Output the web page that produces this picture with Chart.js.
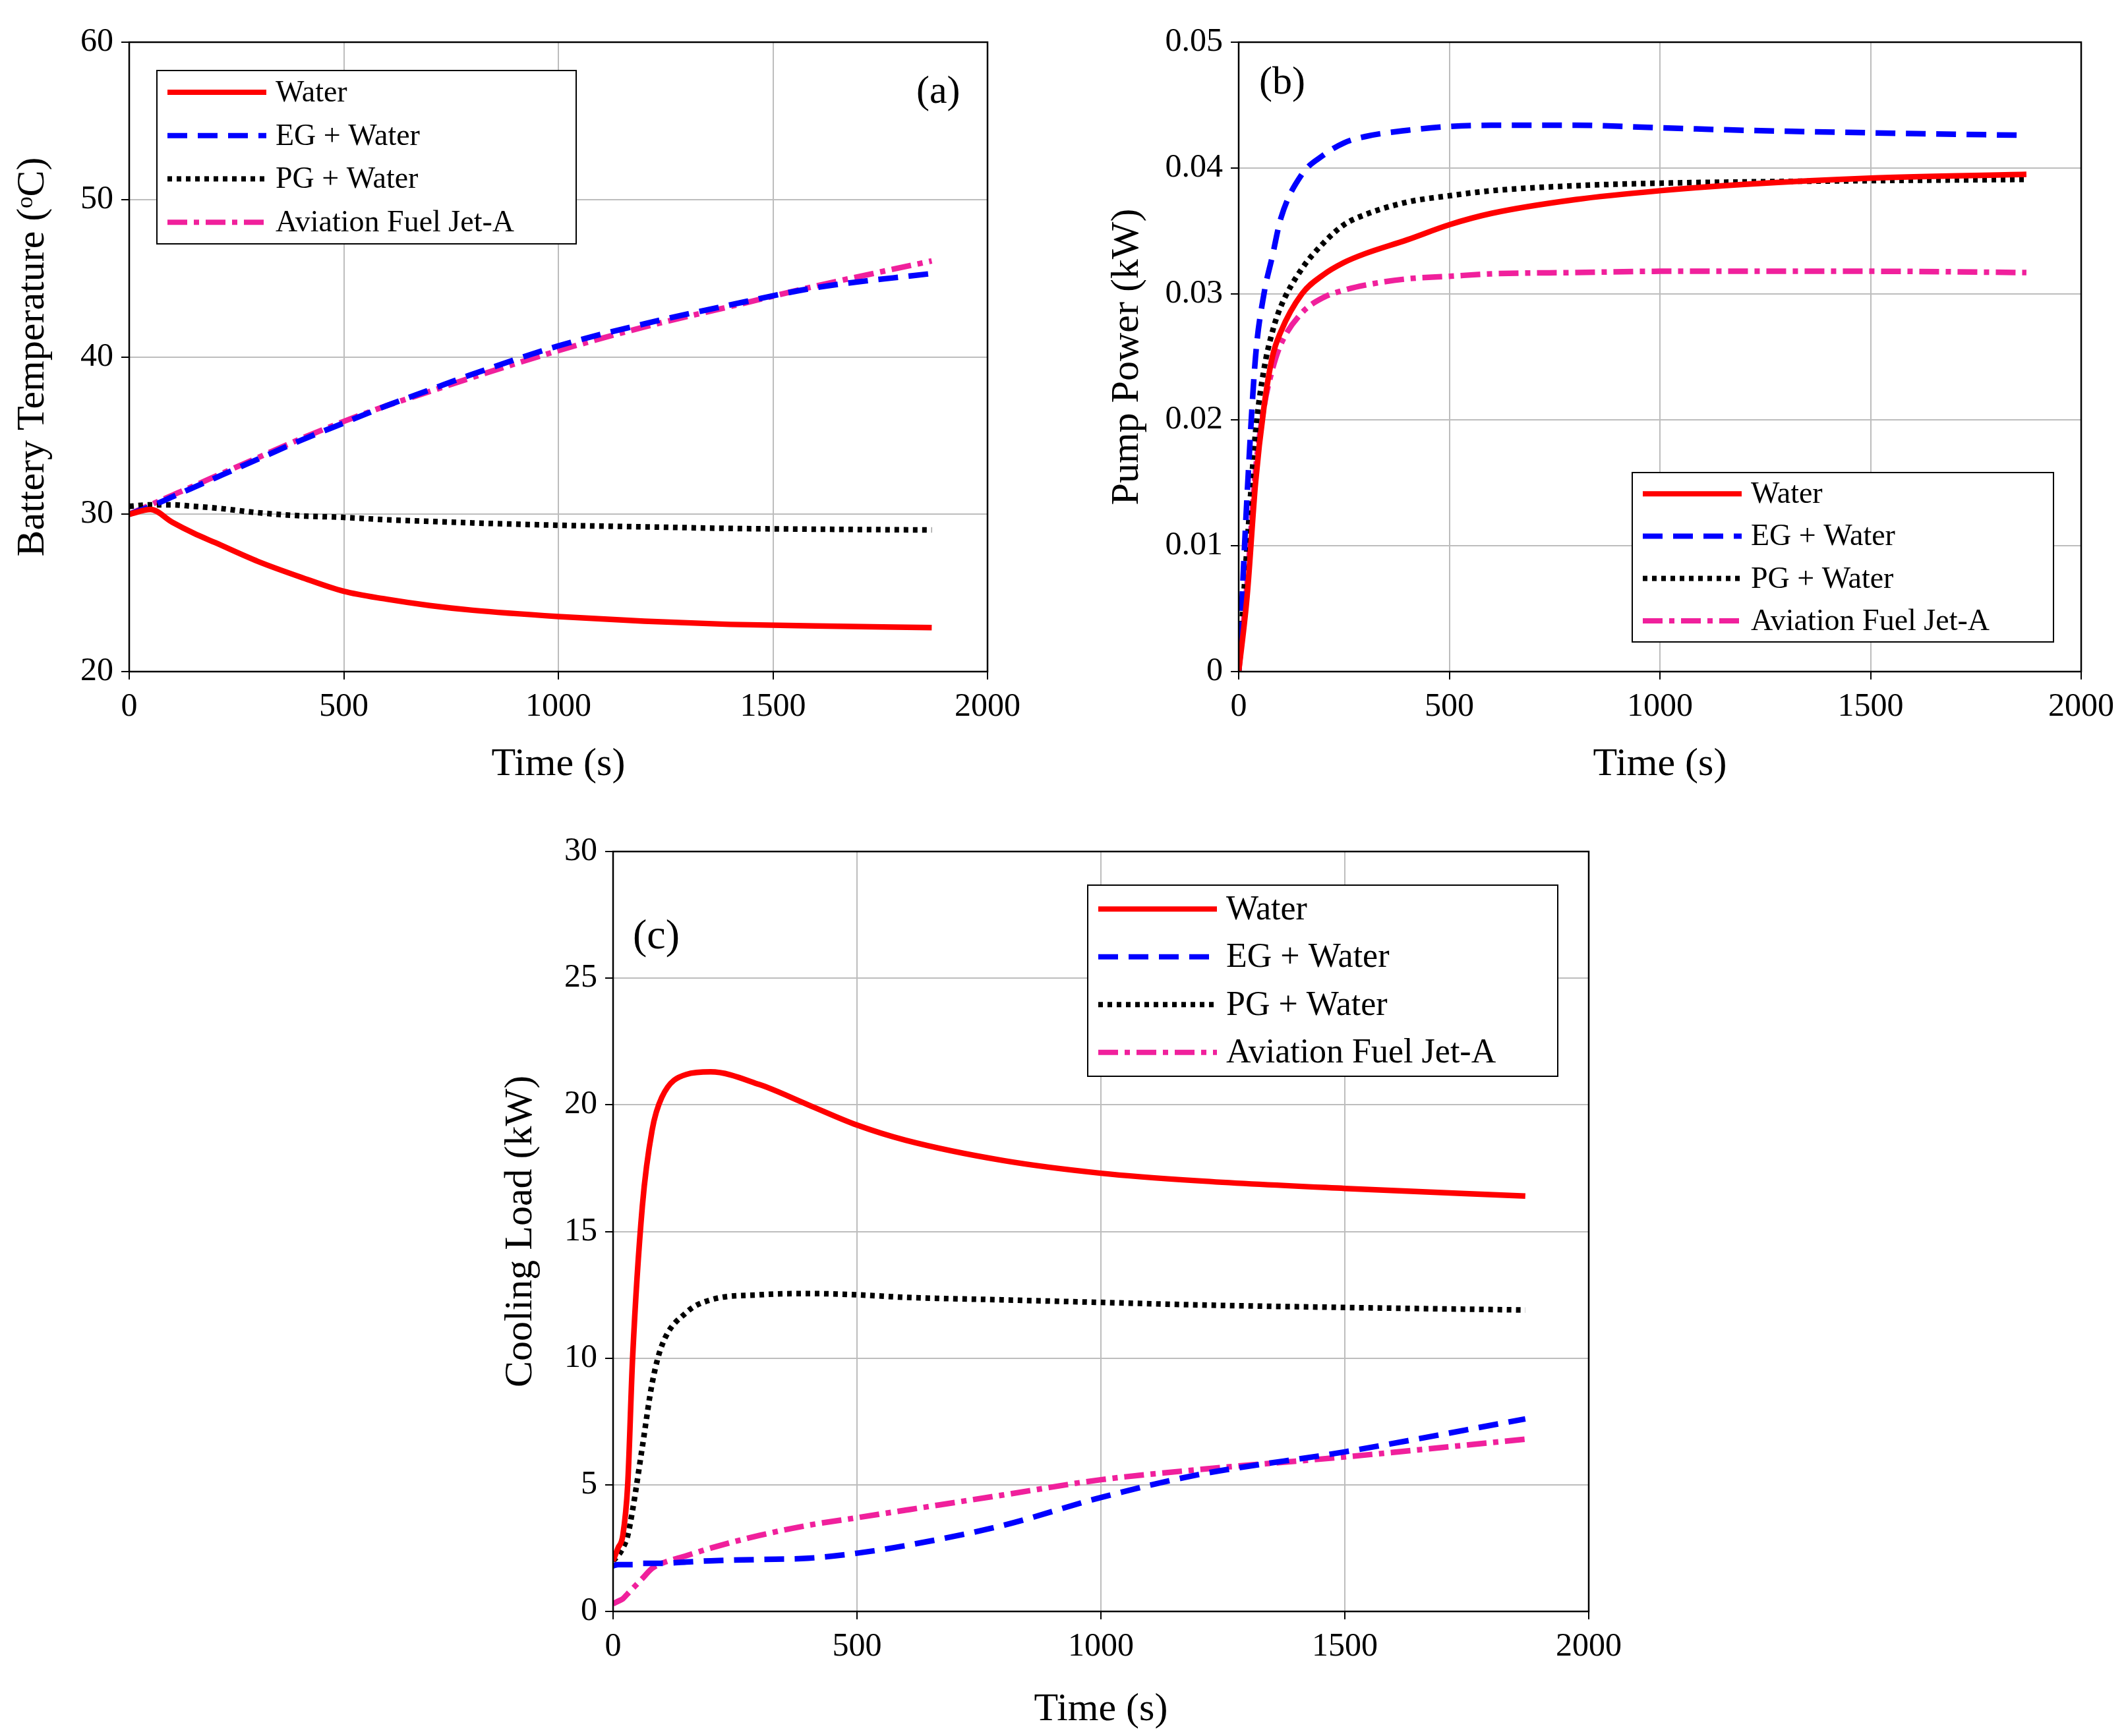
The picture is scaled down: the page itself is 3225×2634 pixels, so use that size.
<!DOCTYPE html>
<html><head><meta charset="utf-8">
<script src="https://cdn.jsdelivr.net/npm/chart.js@4"></script>
<style>
body{margin:0;background:#fff;width:3225px;height:2634px;position:relative;overflow:hidden}
canvas{position:absolute}
</style></head><body>
<canvas id="ca" style="left:0;top:0;width:1560px;height:1200px" width="1560" height="1200"></canvas>
<canvas id="cb" style="left:1560px;top:0;width:1665px;height:1200px" width="1665" height="1200"></canvas>
<canvas id="cc" style="left:500px;top:1200px;width:2000px;height:1434px" width="2000" height="1434"></canvas>
<script>
const seriesNames = ['Water', 'EG + Water', 'PG + Water', 'Aviation Fuel Jet-A'];

// (a) battery temperature
const tA = [0,50,100,150,200,300,400,500,600,700,800,1000,1200,1400,1600,1870];
const tempWater = [30,30.3,29.5,28.8,28.2,27,26,25.1,24.6,24.2,23.9,23.5,23.2,23.0,22.9,22.8];
const tempEG = [30,30.5,31.1,31.7,32.3,33.5,34.7,35.8,36.9,37.9,38.9,40.7,42.1,43.3,44.4,45.3];
const tempPG = [30.5,30.6,30.6,30.5,30.4,30.1,29.9,29.8,29.65,29.55,29.45,29.3,29.2,29.1,29.05,29.0];
const tempJet = [30,30.6,31.2,31.8,32.4,33.6,34.8,35.9,36.9,37.8,38.7,40.4,41.9,43.2,44.5,46.1];

// (b) pump power
const tB = [0,20,40,60,80,100,150,200,250,300,400,500,600,800,1000,1200,1500,1870];
const pumpWater = [0,0.006,0.015,0.021,0.025,0.027,0.030,0.0315,0.0325,0.0332,0.0343,0.0355,0.0364,0.0375,0.0382,0.0387,0.0392,0.0395];
const pumpEG = [0,0.014,0.025,0.030,0.033,0.036,0.0395,0.041,0.042,0.0425,0.043,0.0433,0.0434,0.0434,0.0432,0.043,0.0428,0.0426];
const pumpPG = [0,0.010,0.019,0.024,0.027,0.029,0.032,0.034,0.0355,0.0363,0.0373,0.0378,0.0382,0.0386,0.0388,0.0389,0.039,0.0391];
const pumpJet = [0,0.007,0.016,0.021,0.024,0.026,0.0285,0.0297,0.0303,0.0307,0.0312,0.0314,0.0316,0.0317,0.0318,0.0318,0.0318,0.0317];

// (c) cooling load
const tC = [0,10,20,30,40,60,80,100,150,200,300,400,500,600,800,1000,1200,1500,1870];
const loadWater = [2,2.5,3,5,10,16,19,20.3,21.2,21.3,20.8,20,19.2,18.6,17.8,17.3,17,16.7,16.4];
const loadEG = [1.8,1.85,1.85,1.85,1.85,1.9,1.9,1.9,1.95,2.0,2.05,2.1,2.3,2.6,3.4,4.5,5.4,6.3,7.6];
const loadPG = [2,2.2,2.5,3,4,6.5,9,10.5,11.8,12.3,12.5,12.55,12.5,12.4,12.3,12.2,12.1,12.0,11.9];
const loadJet = [0.3,0.4,0.5,0.7,0.9,1.3,1.7,1.9,2.2,2.5,3.0,3.4,3.7,4.0,4.6,5.2,5.6,6.1,6.8];

const FONT = 'Liberation Serif';
const styles = [
  { color: '#ff0000', dash: [] },
  { color: '#0000ff', dash: [30, 16] },
  { color: '#000000', dash: [7, 7] },
  { color: '#f0209c', dash: [30, 10, 8, 10] }
];

function pts(t, v) { return t.map((x, i) => ({ x, y: v[i] })); }

const framePlugin = {
  id: 'frame',
  afterDraw(chart, args, o) {
    const { ctx, chartArea: a } = chart;
    ctx.save();
    ctx.strokeStyle = '#000'; ctx.lineWidth = 2.5; ctx.setLineDash([]);
    ctx.strokeRect(a.left, a.top, a.right - a.left, a.bottom - a.top);
    const L = o.legend;
    ctx.fillStyle = '#fff';
    ctx.fillRect(L.x, L.y, L.w, L.h);
    ctx.lineWidth = 2;
    ctx.strokeRect(L.x, L.y, L.w, L.h);
    ctx.font = L.size + 'px "' + FONT + '"';
    ctx.textBaseline = 'middle';
    const rowH = L.h / 4;
    chart.data.datasets.forEach((ds, i) => {
      const cy = L.y + rowH * (i + 0.5);
      ctx.strokeStyle = ds.borderColor; ctx.lineWidth = 8;
      ctx.setLineDash(ds.borderDash || []);
      ctx.beginPath(); ctx.moveTo(L.x + 16, cy); ctx.lineTo(L.x + 16 + L.line, cy); ctx.stroke();
      ctx.setLineDash([]);
      ctx.fillStyle = '#000';
      ctx.fillText(ds.label, L.x + 30 + L.line, cy + 2);
    });
    ctx.font = o.tag.size + 'px "' + FONT + '"';
    ctx.fillText(o.tag.text, o.tag.x, o.tag.y);
    ctx.restore();
  }
};

function makeChart(id, t, series, yMin, yMax, yStep, yTitle, pad, yW, xH, legend, tag, fmt) {
  new Chart(document.getElementById(id), {
    type: 'line',
    data: {
      datasets: series.map((v, i) => ({
        label: seriesNames[i], data: pts(t, v),
        borderColor: styles[i].color, borderDash: styles[i].dash,
        borderWidth: 8.5, pointRadius: 0, tension: 0.4, cubicInterpolationMode: 'monotone', fill: false
      }))
    },
    options: {
      responsive: false, animation: false,
      layout: { padding: pad },
      plugins: { legend: { display: false }, tooltip: { enabled: false },
        frame: { legend, tag } },
      scales: {
        x: { type: 'linear', min: 0, max: 2000,
          ticks: { stepSize: 500, color: '#000', font: { family: FONT, size: 50 }, padding: 12, callback: v => String(v) },
          grid: { color: '#bdbdbd', lineWidth: 2, tickLength: 12, tickColor: '#000' },
          border: { display: false },
          title: { display: true, text: 'Time (s)', color: '#000', font: { family: FONT, size: 60 }, padding: { top: 0 } },
          afterFit(s) { s.height = xH; } },
        y: { min: yMin, max: yMax,
          ticks: { stepSize: yStep, color: '#000', font: { family: FONT, size: 50 }, padding: 12, callback: fmt },
          grid: { color: '#bdbdbd', lineWidth: 2, tickLength: 12, tickColor: '#000' },
          border: { display: false },
          title: { display: true, text: yTitle, color: '#000', font: { family: FONT, size: 60 }, padding: { bottom: 10 } },
          afterFit(s) { s.width = yW; } }
      }
    },
    plugins: [framePlugin]
  });
}

makeChart('ca', tA, [tempWater, tempEG, tempPG, tempJet], 20, 60, 10, 'Battery Temperature (ᵒC)',
  { left: 10, right: 57, top: 64, bottom: 0 }, 186, 181,
  { x: 238, y: 107, w: 636, h: 263, line: 150, size: 46 },
  { text: '(a)', x: 1390, y: 140, size: 60 }, v => v);

makeChart('cb', tB, [pumpWater, pumpEG, pumpPG, pumpJet], 0, 0.05, 0.01, 'Pump Power (kW)',
  { left: 110, right: 68, top: 64, bottom: 0 }, 209, 181,
  { x: 916, y: 717, w: 639, h: 257, line: 150, size: 46 },
  { text: '(b)', x: 350, y: 126, size: 60 }, v => v === 0 ? '0' : v.toFixed(2));

makeChart('cc', tC, [loadWater, loadEG, loadPG, loadJet], 0, 30, 5, 'Cooling Load (kW)',
  { left: 250, right: 90, top: 92, bottom: 0 }, 180, 189,
  { x: 1150, y: 143, w: 713, h: 290, line: 180, size: 52 },
  { text: '(c)', x: 460, y: 222, size: 64 }, v => v);
</script>
</body></html>
